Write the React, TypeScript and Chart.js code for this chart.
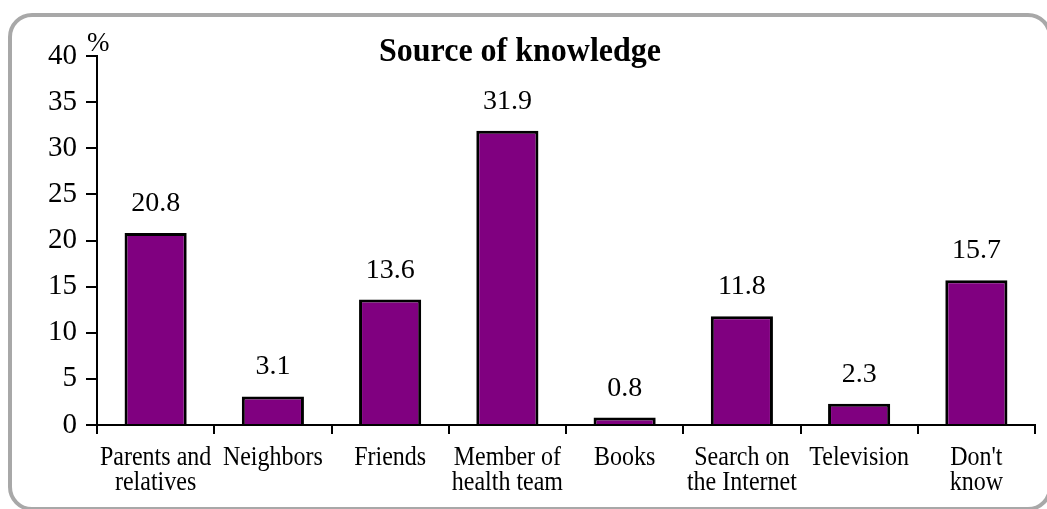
import React, { useEffect, useRef } from "react";
import { Chart, registerables } from "chart.js";

Chart.register(...registerables);

const categories: string[][] = [
  ["Parents and", "relatives"],
  ["Neighbors"],
  ["Friends"],
  ["Member of", "health team"],
  ["Books"],
  ["Search on", "the Internet"],
  ["Television"],
  ["Don't", "know"],
];
const values: number[] = [20.8, 3.1, 13.6, 31.9, 0.8, 11.8, 2.3, 15.7];
const valueLabels: string[] = ["20.8", "3.1", "13.6", "31.9", "0.8", "11.8", "2.3", "15.7"];
const chartTitle = "Source of knowledge";
const yUnit = "%";
const yMin = 0;
const yMax = 40;
const yStep = 5;

const FONT = "'Liberation Serif', 'Times New Roman', serif";

const overlayPlugin = {
  id: "overlay",
  afterDatasetsDraw(chart: any) {
    const ctx = chart.ctx;
    const meta = chart.getDatasetMeta(0);
    const xs = chart.scales.x;
    const area = chart.chartArea;
    ctx.save();
    ctx.fillStyle = "#000";
    ctx.textAlign = "center";
    ctx.textBaseline = "alphabetic";
    ctx.font = `28px ${FONT}`;
    meta.data.forEach((el: any, i: number) => {
      ctx.fillText(valueLabels[i], el.x, el.y - 22);
    });
    // category labels (slightly tall glyphs like the reference)
    const sy = 1.15;
    ctx.font = `24px ${FONT}`;
    categories.forEach((lines, i) => {
      const x = xs.getPixelForTick(i);
      lines.forEach((line, j) => {
        const baseline = area.bottom + 40 + j * 25;
        ctx.save();
        ctx.translate(x, baseline);
        ctx.scale(1, sy);
        ctx.fillText(line, 0, 0);
        ctx.restore();
      });
    });
    // title
    ctx.save();
    ctx.font = `bold 32px ${FONT}`;
    ctx.translate(520, 61);
    ctx.scale(1, 1.05);
    ctx.fillText(chartTitle, 0, 0);
    ctx.restore();
    // unit
    ctx.textAlign = "left";
    ctx.font = `27px ${FONT}`;
    ctx.fillText(yUnit, area.left - 10, 51);
    ctx.restore();
  },
};

export default function App() {
  const ref = useRef<HTMLCanvasElement | null>(null);
  useEffect(() => {
    if (!ref.current) return;
    const chart = new Chart(ref.current, {
      type: "bar",
      data: {
        labels: categories.map((l) => l.join(" ")),
        datasets: [
          {
            data: values,
            backgroundColor: "#800080",
            borderColor: "#000000",
            borderWidth: 3,
            borderSkipped: "start",
            barPercentage: 0.53,
            categoryPercentage: 1,
          },
        ],
      },
      options: {
        animation: false,
        responsive: false,
        devicePixelRatio: 1,
        layout: { padding: { left: 0, right: 12, top: 56, bottom: 0 } },
        plugins: {
          legend: { display: false },
          title: { display: false },
          tooltip: { enabled: false },
        },
        scales: {
          x: {
            offset: true,
            afterFit: (s: any) => {
              s.height = 84;
            },
            grid: {
              offset: true,
              drawOnChartArea: false,
              drawTicks: true,
              tickLength: 9,
              color: "#000",
              lineWidth: 2,
            },
            border: { display: true, color: "#000", width: 2 },
            ticks: {
              display: false,
              autoSkip: false,
            },
          },
          y: {
            min: yMin,
            max: yMax,
            afterFit: (s: any) => {
              s.width = 97;
            },
            grid: {
              drawOnChartArea: false,
              drawTicks: true,
              tickLength: 11,
              color: "#000",
              lineWidth: 2,
            },
            border: { display: true, color: "#000", width: 2 },
            ticks: {
              stepSize: yStep,
              color: "#000",
              font: { family: FONT, size: 29 },
              padding: 9,
            },
          },
        },
      },
      plugins: [overlayPlugin],
    });
    return () => chart.destroy();
  }, []);

  return (
    <div
      style={{
        position: "absolute",
        left: 0,
        top: 0,
        width: 1047,
        height: 509,
        overflow: "hidden",
        background: "#fff",
      }}
    >
      <div
        style={{
          position: "absolute",
          left: 8,
          top: 13,
          width: 1044,
          height: 498,
          boxSizing: "border-box",
          border: "4px solid #a8a8a8",
          borderRadius: 24,
        }}
      />
      <canvas
        ref={ref}
        width={1047}
        height={509}
        style={{ position: "absolute", left: 0, top: 0, width: 1047, height: 509 }}
      />
    </div>
  );
}
